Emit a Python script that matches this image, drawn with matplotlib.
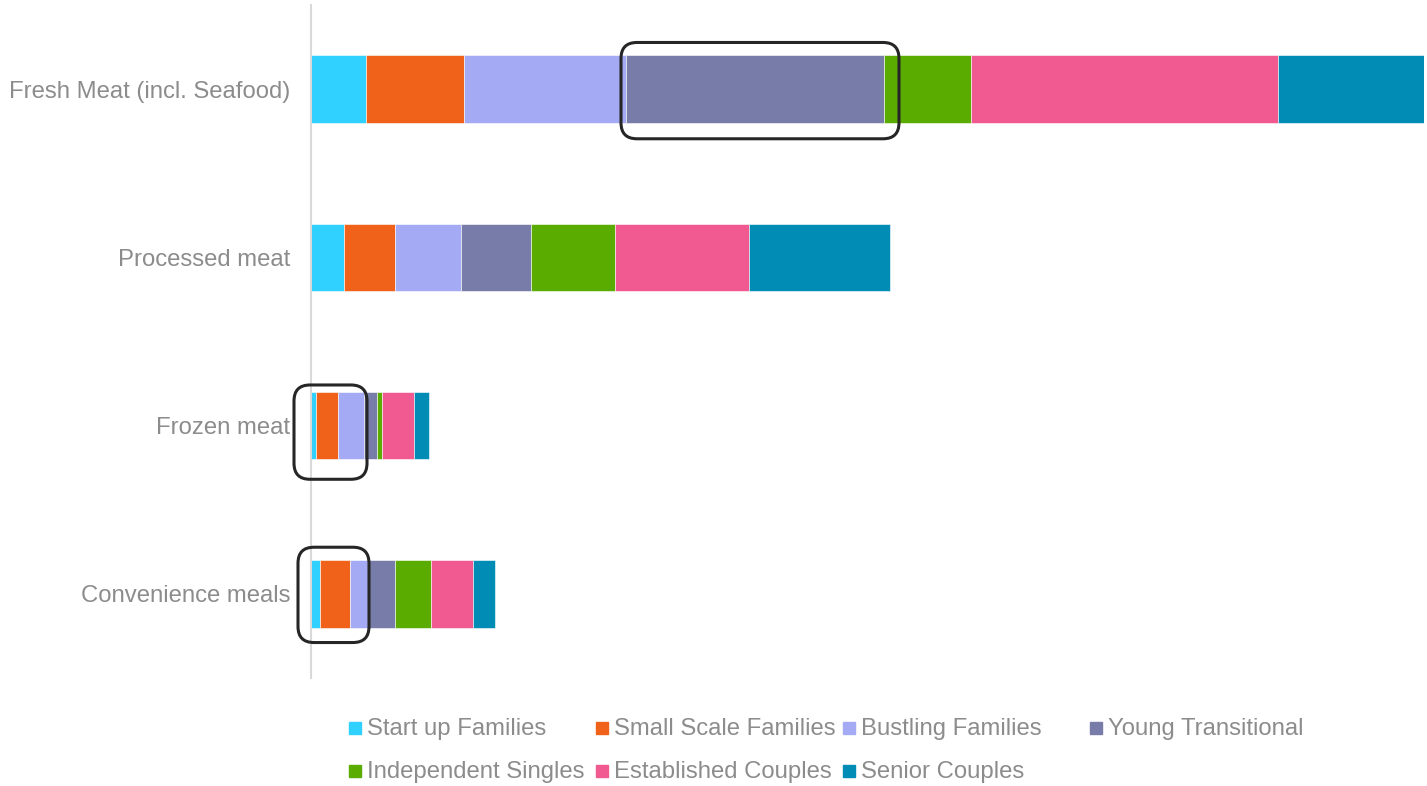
import numpy as np
import matplotlib.pyplot as plt
from matplotlib.patches import FancyBboxPatch, Rectangle
from matplotlib.transforms import IdentityTransform

plt.rcParams['font.family'] = ['Liberation Sans', 'DejaVu Sans']

# categories, top to bottom
categories = ["Fresh Meat (incl. Seafood)", "Processed meat", "Frozen meat", "Convenience meals"]

# segment values per category (same order as categories)
start_up = [55, 33, 5, 9]
small_scale = [98, 51, 22, 30]
bustling = [162, 66, 26, 19]
young_trans = [258, 70, 13, 26]
independent = [87, 84, 5, 36]
established = [307, 134, 32, 42]
senior = [146, 141, 15, 22]

series_names = ["Start up Families", "Small Scale Families", "Bustling Families",
                "Young Transitional", "Independent Singles", "Established Couples",
                "Senior Couples"]
series_vals = [start_up, small_scale, bustling, young_trans, independent, established, senior]
colors = ["#30D0FF", "#F0611A", "#A5AAF4", "#787CA8", "#5AAC00", "#F05A91", "#008CB5"]

# highlighted groups: (category index, first segment, last segment) + padding in px (left, right, top, bottom)
highlights = [(0, 3, 3, (5, 15, 13, 16)),
              (2, 0, 2, (17, 3, 7, 20)),
              (3, 0, 2, (13, 0, 13, 15))]

W, H = 1427, 786
fig = plt.figure(figsize=(W / 100, H / 100), dpi=100)
ax = fig.add_axes([311 / W, 108 / H, 1113 / W, 673 / H])

y = np.arange(len(categories))
left = np.zeros(len(categories))
for name, vals, c in zip(series_names, series_vals, colors):
    ax.barh(y, vals, left=left, height=0.4, color=c, edgecolor="white", linewidth=0.4, label=name)
    left += np.array(vals)

ax.set_xlim(0, max(left))
ax.set_ylim(len(categories) - 0.5, -0.5)
ax.set_yticks(y)
ax.set_yticklabels(categories, fontsize=17.2, color="#8C8C8C")
ax.tick_params(axis="y", length=0, pad=15)
ax.set_xticks([])
for s in ["top", "right", "bottom"]:
    ax.spines[s].set_visible(False)
ax.spines["left"].set_color("#D9D9D9")
ax.spines["left"].set_linewidth(1.5)

# rounded outline boxes around the highlighted segments
fig.canvas.draw()
cum = np.cumsum(np.vstack([np.zeros(len(categories))] + [np.array(v) for v in series_vals]), axis=0)
for ci, s0, s1, (pl, pr, pt, pb) in highlights:
    x0, y0 = ax.transData.transform((cum[s0, ci], ci + 0.2))
    x1, y1 = ax.transData.transform((cum[s1 + 1, ci], ci - 0.2))
    box = FancyBboxPatch((x0 - pl, y0 - pb), (x1 - x0) + pl + pr, (y1 - y0) + pt + pb,
                         boxstyle="round,pad=0,rounding_size=16", transform=IdentityTransform(),
                         fill=False, edgecolor="#262626", linewidth=2.2, zorder=5)
    fig.add_artist(box)

# legend, laid out in equal-width columns
for i, (name, c) in enumerate(zip(series_names, colors)):
    col, row = i % 4, i // 4
    lx = 349 + 247 * col
    ly = 728 + 43 * row
    fig.add_artist(Rectangle((lx / W, 1 - (ly + 6) / H), 12 / W, 12 / H,
                             transform=fig.transFigure, color=c))
    fig.text((lx + 18) / W, 1 - (ly + 1) / H, name, fontsize=17.2, color="#8C8C8C",
             va="center", ha="left")

fig.savefig("out.png", dpi=100)
